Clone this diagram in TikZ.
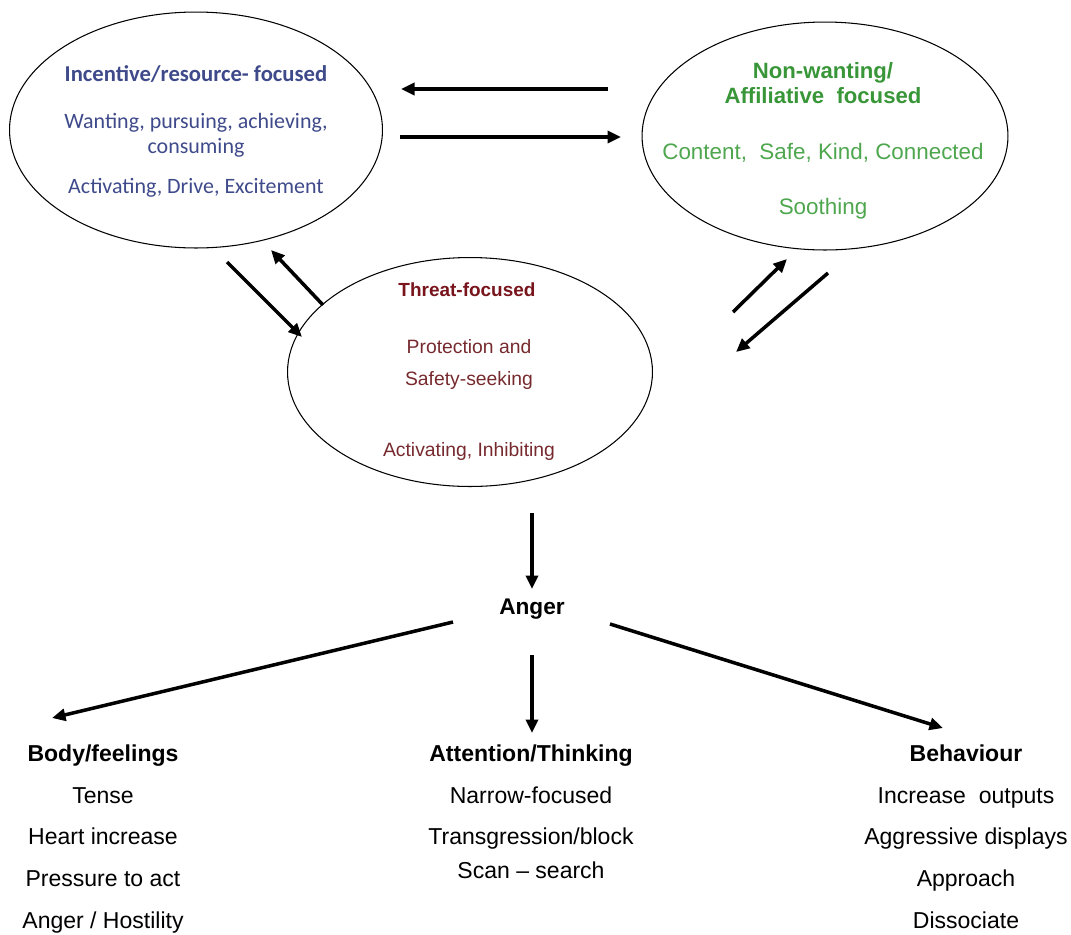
\documentclass[tikz,border=0pt]{standalone}
\usepackage{fontspec}
\setmainfont{Liberation Sans}
\newfontfamily\calibri{Carlito}
\usetikzlibrary{shapes.geometric, arrows.meta}

\definecolor{incblue}{RGB}{63,74,138}
\definecolor{affgreen}{RGB}{78,166,78}
\definecolor{affdark}{RGB}{56,150,56}
\definecolor{thrred}{RGB}{120,20,28}
\definecolor{thrtext}{RGB}{118,42,46}

\tikzset{
    sys/.style={draw, ellipse, line width=0.6pt},
    flow/.style={line width=2pt, -{Triangle[length=0.27cm, width=0.24cm]}},
    lbl/.style={inner sep=0pt, anchor=center, text height=1.6ex, text depth=0.3ex}
}

\begin{document}
\begin{tikzpicture}[x=0.02cm, y=-0.02cm]
    \useasboundingbox (0,0) rectangle (1071,934);

    % the three systems
    \node[sys, minimum width=7.46cm, minimum height=4.72cm] at (196,130) (inc) {};
    \node[sys, minimum width=7.32cm, minimum height=4.56cm] at (825,136) (aff) {};
    \node[sys, minimum width=7.30cm, minimum height=4.58cm] at (470,372) (thr) {};

    \node[lbl, text=incblue, font=\calibri\bfseries\fontsize{12.9}{15}\selectfont] at (196,75) (inc1) {Incentive/resource- focused};
    \node[lbl, text=incblue, font=\calibri\fontsize{12.5}{15}\selectfont] at (196,122) (inc2) {Wanting, pursuing, achieving,};
    \node[lbl, text=incblue, font=\calibri\fontsize{12.5}{15}\selectfont] at (196,147) (inc3) {consuming};
    \node[lbl, text=incblue, font=\calibri\fontsize{12.5}{15}\selectfont] at (196,187) (inc4) {Activating, Drive, Excitement};

    \node[lbl, text=affdark, font=\bfseries\fontsize{12.6}{15}\selectfont] at (823,72) (aff1) {Non-wanting/};
    \node[lbl, text=affdark, font=\bfseries\fontsize{12.6}{15}\selectfont] at (823,97) (aff2) {Affiliative\ \ focused};
    \node[lbl, text=affgreen, font=\fontsize{12.75}{15}\selectfont] at (823,153) (aff3) {Content,\ \ Safe, Kind, Connected};
    \node[lbl, text=affgreen, font=\fontsize{12.75}{15}\selectfont] at (823,208) (aff4) {Soothing};

    \node[lbl, text=thrred, font=\bfseries\fontsize{10.8}{13}\selectfont] at (467,290) (thr1) {Threat-focused};
    \node[lbl, text=thrtext, font=\fontsize{11}{13}\selectfont] at (469,347) (thr2) {Protection and};
    \node[lbl, text=thrtext, font=\fontsize{11}{13}\selectfont] at (469,379) (thr3) {Safety-seeking};
    \node[lbl, text=thrtext, font=\fontsize{11}{13}\selectfont] at (469,450) (thr4) {Activating, Inhibiting};

    % anger and its three outputs
    \node[lbl, font=\bfseries\fontsize{12.9}{15}\selectfont] at (532,608) (anger) {Anger};

    \node[lbl, font=\bfseries\fontsize{13.1}{15}\selectfont] at (103,755) (body) {Body/feelings};
    \node[lbl, font=\fontsize{13.1}{15}\selectfont] at (103,797) (body1) {Tense};
    \node[lbl, font=\fontsize{13.1}{15}\selectfont] at (103,838) (body2) {Heart increase};
    \node[lbl, font=\fontsize{13.1}{15}\selectfont] at (103,880) (body3) {Pressure to act};
    \node[lbl, font=\fontsize{13.1}{15}\selectfont] at (103,922) (body4) {Anger / Hostility};

    \node[lbl, font=\bfseries\fontsize{13.1}{15}\selectfont] at (531,755) (att) {Attention/Thinking};
    \node[lbl, font=\fontsize{13.1}{15}\selectfont] at (531,797) (att1) {Narrow-focused};
    \node[lbl, font=\fontsize{13.1}{15}\selectfont] at (531,838) (att2) {Transgression/block};
    \node[lbl, font=\fontsize{13.1}{15}\selectfont] at (531,872) (att3) {Scan -- search};

    \node[lbl, font=\bfseries\fontsize{13.1}{15}\selectfont] at (966,755) (beh) {Behaviour};
    \node[lbl, font=\fontsize{13.1}{15}\selectfont] at (966,797) (beh1) {Increase\ \ outputs};
    \node[lbl, font=\fontsize{13.1}{15}\selectfont] at (966,838) (beh2) {Aggressive displays};
    \node[lbl, font=\fontsize{13.1}{15}\selectfont] at (966,880) (beh3) {Approach};
    \node[lbl, font=\fontsize{13.1}{15}\selectfont] at (966,922) (beh4) {Dissociate};

    % arrow ends
    \coordinate (ia) at (608,89);   \coordinate (ib) at (401,89);
    \coordinate (ic) at (400,137);  \coordinate (id) at (621,137);
    \coordinate (ta) at (227,262);  \coordinate (tb) at (302,337);
    \coordinate (tc) at (323,305);  \coordinate (td) at (271,250);
    \coordinate (te) at (733,312);  \coordinate (tf) at (787,259);
    \coordinate (tg) at (828,273);  \coordinate (th) at (736,352);
    \coordinate (aa) at (532,513);  \coordinate (ab) at (532,589);
    \coordinate (ba) at (453,622);  \coordinate (bb) at (52,718);
    \coordinate (ma) at (532,655);  \coordinate (mb) at (532,733);
    \coordinate (ra) at (610,624);  \coordinate (rb) at (943,728);

    \draw[flow] (ia) -- (ib);
    \draw[flow] (ic) -- (id);
    \draw[flow] (ta) -- (tb);
    \draw[flow] (tc) -- (td);
    \draw[flow] (te) -- (tf);
    \draw[flow] (tg) -- (th);
    \draw[flow] (aa) -- (ab);
    \draw[flow] (ba) -- (bb);
    \draw[flow] (ma) -- (mb);
    \draw[flow] (ra) -- (rb);
\end{tikzpicture}
\end{document}
